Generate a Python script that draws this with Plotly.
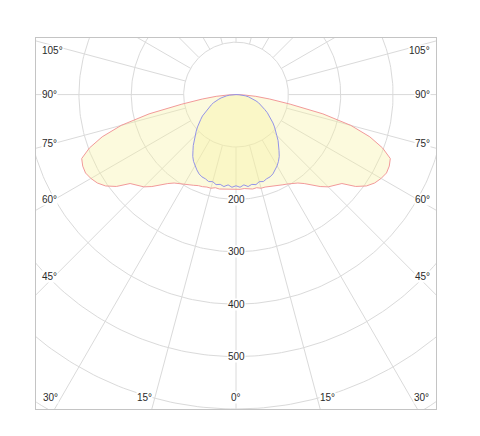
import numpy as np
import plotly.graph_objects as go

# luminous intensity (cd) against gamma angle from nadir, one half of each plane (mirrored)
gamma = [0, 2.5, 5, 7.5, 10, 12.5, 15, 17.5, 20, 22.5, 25, 27.5, 30, 32.5, 35, 37.5,
         40, 42.5, 45, 47.5, 50, 52.5, 55, 57.5, 60, 62.5, 65, 67.5, 70, 72.5, 75,
         77.5, 80, 82.5, 85, 87.5, 90]
c0_c180 = [180, 181, 180, 182, 183, 182, 185, 185, 187, 188, 191, 194, 197, 201, 206, 214,
           225, 238, 249, 256, 264, 288, 304, 314, 320, 324, 323, 319, 298, 268, 227,
           170, 105, 65, 38, 15, 0]
c90_c270 = [174, 177, 173, 177, 174, 176, 172, 174, 171, 170, 167, 162, 157, 151, 144, 135,
            127, 119, 110, 103, 96, 89, 82, 76, 69, 62, 56, 51, 46, 40, 34,
            29, 24, 18, 12, 6, 0]

rings = [100, 200, 300, 400, 500, 600, 700]
ring_labels = [200, 300, 400, 500]
spoke_angles = list(range(0, 360, 15))
angle_labels = [0, 15, 30, 45, 60, 75, 90, 105]

# visible window of the diagram (cd), the rest of the polar grid is cropped
x_max = 382
y_top = 108
y_bot = -600
px = 400 / (2 * x_max)  # pixels per cd

grid_col = "#dadada"
font = dict(family="Liberation Sans, Arial, sans-serif", size=10, color="#2a2a2a")


def to_xy(r, ang_deg):
    a = np.radians(ang_deg)
    return r * np.sin(a), -r * np.cos(a)


def curve(values):
    g = np.array(gamma)
    v = np.array(values)
    ang = np.concatenate([-g[::-1], g[1:]])
    r = np.concatenate([v[::-1], v[1:]])
    return to_xy(r, ang)


fig = go.Figure()

# rings
t = np.linspace(0, 360, 361)
for r in rings:
    x, y = to_xy(r, t)
    fig.add_trace(go.Scatter(x=x, y=y, mode="lines", line=dict(color=grid_col, width=1),
                             hoverinfo="skip"))

# spokes start at the first ring
for a in spoke_angles:
    x, y = to_xy(np.array([rings[0], 1000]), a)
    fig.add_trace(go.Scatter(x=x, y=y, mode="lines", line=dict(color=grid_col, width=1),
                             hoverinfo="skip"))

# intensity curves
for vals, col in [(c0_c180, "#f29a9a"), (c90_c270, "#9494e8")]:
    x, y = curve(vals)
    fig.add_trace(go.Scatter(x=x, y=y, mode="lines", fill="toself",
                             fillcolor="rgba(246,240,160,0.36)",
                             line=dict(color=col, width=1), hoverinfo="skip"))

annotations = []
for r in ring_labels:
    annotations.append(dict(x=0, y=-r, text=str(r), showarrow=False, font=font,
                            bgcolor="white", borderpad=0))

side_x = x_max - 18 / px
top_lim = y_top - 12 / px
bot_lim = y_bot + 11 / px
for a in angle_labels:
    for s in ([-1, 1] if a else [1]):
        ys = -side_x / np.tan(np.radians(a)) if a else -1e9
        if ys > bot_lim:
            ys = min(ys, top_lim)
            annotations.append(dict(x=s * (x_max - 5 / px), y=ys, text=f"{a}°",
                                    showarrow=False, font=font, bgcolor="white",
                                    borderpad=0, xanchor="left" if s < 0 else "right"))
        else:
            xb = s * (-bot_lim) * np.tan(np.radians(a))
            anchor = "center" if a == 0 else ("right" if s < 0 else "left")
            annotations.append(dict(x=xb, y=bot_lim, text=f"{a}°", showarrow=False,
                                    font=font, bgcolor="white", borderpad=0,
                                    xanchor=anchor, xshift=0 if a == 0 else s * 2))

fig.update_layout(
    width=472, height=428,
    margin=dict(l=28, r=44, t=30, b=27),
    paper_bgcolor="white", plot_bgcolor="white",
    showlegend=False,
    xaxis=dict(range=[-x_max, x_max], showgrid=False, zeroline=False, showticklabels=False,
               ticks="", showline=True, mirror=True, linecolor="#c4c4c4", linewidth=1,
               fixedrange=True),
    yaxis=dict(range=[y_bot, y_top], showgrid=False, zeroline=False, showticklabels=False,
               ticks="", showline=True, mirror=True, linecolor="#c4c4c4", linewidth=1,
               fixedrange=True),
    annotations=annotations,
)

fig.write_html("out.html")
